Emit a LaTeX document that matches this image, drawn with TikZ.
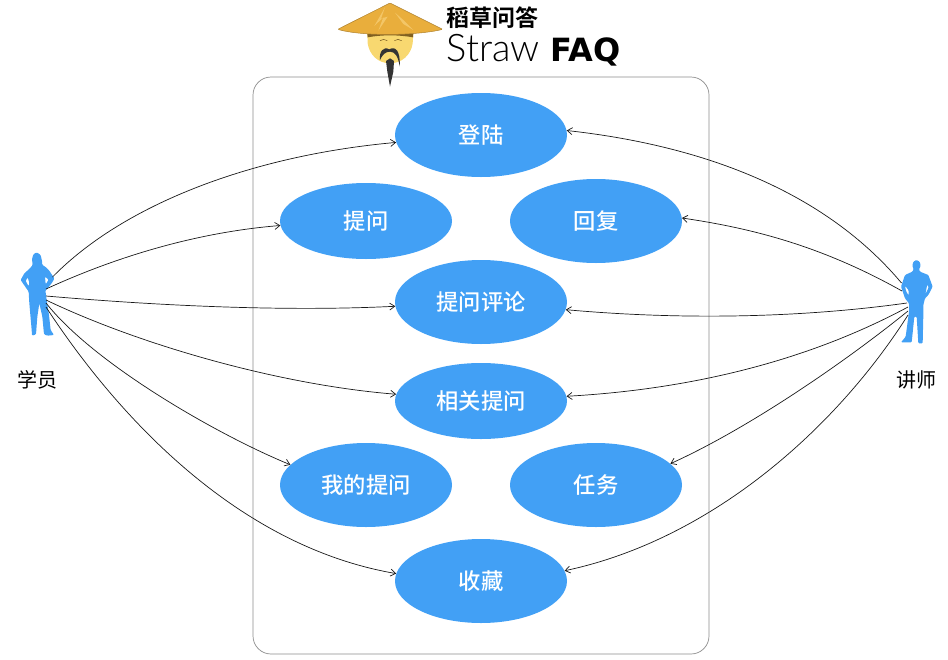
\documentclass[tikz,border=0pt]{standalone}
\usepackage{fontspec}
\usetikzlibrary{shapes.geometric,arrows.meta}
\newfontfamily\cjk[BoldFont=Noto Sans CJK SC Bold]{Noto Sans CJK SC}
\newfontfamily\cjkmed{Noto Sans CJK SC Medium}
\newfontfamily\thinlat{Lato Light}
\newfontfamily\boldlat[BoldFont=DejaVu Sans Bold]{DejaVu Sans}
\definecolor{ublue}{HTML}{42A0F5}
\definecolor{hatc}{HTML}{E9AE3C}
\definecolor{hatl}{HTML}{F3C667}
\definecolor{facec}{HTML}{F8D870}
\tikzset{
 usecase/.style={ellipse,fill=ublue,text=white,minimum width=172pt,inner sep=0pt,font=\cjkmed\fontsize{22.3}{22.3}\selectfont},
 tall/.style={usecase,minimum height=84pt},
 short/.style={usecase,minimum height=76pt},
 role/.style={font=\cjk\fontsize{20}{20}\selectfont,text=black},
 link/.style={draw=black!90,line width=0.7pt,-{Straight Barb[length=5pt,width=7pt,line width=0.7pt]}},
 person/.style={fill=ublue,even odd rule,rounded corners=1pt},
}
\begin{document}
\begin{tikzpicture}[x=1pt,y=-1pt]
\useasboundingbox (0,0) rectangle (948,659);
\draw[draw=black!45,line width=0.7pt,rounded corners=18pt] (253,77) rectangle (709,654);
% logo
\begin{scope}[shift={(335,0)},scale=0.33333]
 \fill[facec] (97,100) -- (235,100) -- (233,130) .. controls (228,165) and (200,190) .. (165,190) .. controls (130,190) and (103,165) .. (98,130) -- cycle;
 \fill[black!45!hatc] (97,100) -- (235,100) -- (234,112) .. controls (190,104) and (140,104) .. (98,112) -- cycle;
 \draw[black!50!hatc,line width=0.5pt] (135,122) .. controls (142,117) and (150,117) .. (157,122) (178,122) .. controls (185,117) and (193,117) .. (200,122);
 \fill[hatc,draw=black!25!hatc,line width=0.5pt,rounded corners=1pt] (165,9) -- (323,88) .. controls (250,106) and (85,110) .. (8,88) -- cycle;
 \fill[hatl] (150,22) -- (118,78) -- (145,52) -- (130,92) -- (158,50) -- (138,56) -- cycle;
 \fill[hatl] (180,38) -- (205,60) -- (235,90) -- (205,72) -- cycle;
 \fill[black!80] (135,180) .. controls (132,155) and (145,138) .. (163,148) .. controls (180,138) and (197,150) .. (194,200) .. controls (190,170) and (180,155) .. (165,155) .. controls (150,155) and (142,165) .. (135,180) -- cycle;
 \fill[black!80] (153,183) -- (165,175) -- (177,183) -- (175,215) -- (165,260) -- (157,215) -- cycle;
 \node (logocn) [anchor=west,inner sep=0pt,font=\cjk\fontsize{23}{23}\selectfont\bfseries] at (335,54) {稻草问答};
 \node (logoen) [anchor=base west,inner sep=0pt,font=\thinlat\fontsize{38}{38}\selectfont] at (335,185) {Straw};
 \node (logofaq) [anchor=base west,inner sep=0pt,font=\boldlat\fontsize{32}{32}\selectfont\bfseries] at (645,185) {FAQ};
\end{scope}
% use cases
\node[tall] (denglu) at (481,135) {登陆};
\node[short] (tiwen) at (366,221) {提问};
\node[tall] (huifu) at (596,221) {回复};
\node[tall] (pinglun) at (481,302) {提问评论};
\node[short] (xiangguan) at (481,401) {相关提问};
\node[tall] (wode) at (366,485) {我的提问};
\node[tall] (renwu) at (596,485) {任务};
\node[tall] (shoucang) at (481,581) {收藏};
% student
\begin{scope}[shift={(10,245)},scale=0.33333]
 \fill[person] (80,22) -- (92,30) -- (96,48) -- (97,60) -- (107,66) -- (117,76) -- (133,100) -- (127,112) -- (110,134) -- (106,135) -- (110,165) -- (117,210) -- (122,255) -- (132,270) -- (112,272) -- (102,268) -- (97,215) -- (88,175) -- (82,215) -- (78,268) -- (66,272) -- (65,255) -- (58,175) -- (56,140) -- (32,105) -- (43,85) -- (58,72) -- (68,60) -- (66,42) -- (70,28) -- cycle
 (53,97) -- (58,113) -- (56,124) -- (47,108) -- cycle
 (105,95) -- (116,104) -- (107,118) -- cycle;
\end{scope}
\node[role] (xueyuan) at (37,380) {学员};
% teacher
\begin{scope}[shift={(895,255)},scale=0.33333]
 \fill[person] (64,15) -- (74,20) -- (77,32) -- (72,44) -- (75,50) -- (100,60) -- (113,95) -- (100,120) -- (90,130) -- (85,150) -- (85,180) -- (83,265) -- (70,265) -- (65,185) -- (58,185) -- (50,262) -- (18,262) -- (32,245) -- (42,170) -- (42,145) -- (30,130) -- (18,95) -- (30,60) -- (52,50) -- (56,44) -- (52,32) -- (55,20) -- cycle
 (30,92) -- (41,106) -- (41,122) -- (33,108) -- cycle
 (97,88) -- (101,98) -- (91,117) -- cycle;
\end{scope}
\node[role] (jiangshi) at (916,380) {讲师};
% connector ends
\coordinate (sa) at (52.5,277);
\coordinate (sb) at (46,289);
\coordinate (sc) at (46,296);
\coordinate (sd) at (46,300);
\coordinate (se) at (46,303);
\coordinate (sf) at (46,307);
\coordinate (ta) at (901.5,283);
\coordinate (tb) at (902,291);
\coordinate (tc) at (907,303);
\coordinate (td) at (908,307);
\coordinate (te) at (908,311);
\coordinate (tf) at (908,315);
\draw[link] (sa) .. controls (125,203) and (255,155) .. (denglu.185);
\draw[link] (sb) .. controls (120,255) and (200,232) .. (tiwen.183);
\draw[link] (sc) .. controls (150,305) and (280,312) .. (pinglun);
\draw[link] (sd) .. controls (140,345) and (280,385) .. (xiangguan);
\draw[link] (se) .. controls (95,365) and (220,436) .. (wode.165);
\draw[link] (sf) .. controls (110,405) and (230,545) .. (shoucang.175);
\draw[link] (ta) .. controls (815,180) and (680,143) .. (denglu.3);
\draw[link] (tb) .. controls (820,245) and (750,228) .. (huifu.2);
\draw[link] (tc) .. controls (800,318) and (680,320) .. (pinglun);
\draw[link] (td) .. controls (800,365) and (680,390) .. (xiangguan);
\draw[link] (te) .. controls (840,366) and (745,430) .. (renwu.16);
\draw[link] (tf) .. controls (835,430) and (710,540) .. (shoucang.7);
\end{tikzpicture}
\end{document}
